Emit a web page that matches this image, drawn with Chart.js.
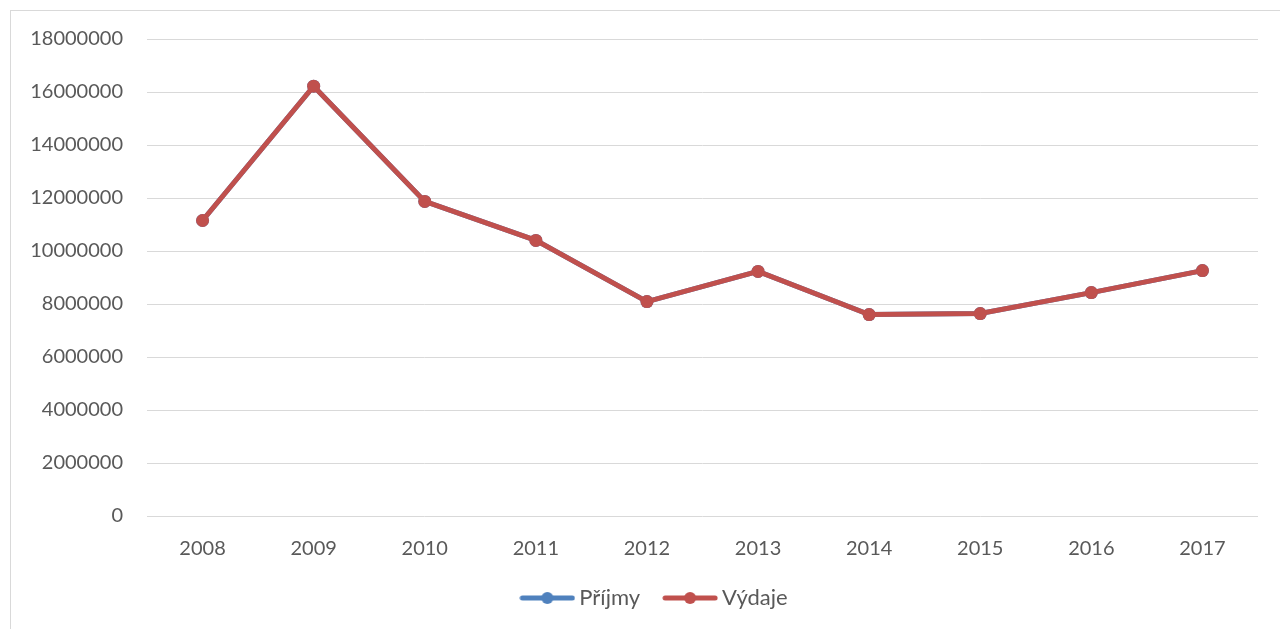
<!DOCTYPE html>
<html>
<head>
<meta charset="utf-8">
<script src="https://cdn.jsdelivr.net/npm/chart.js@4"></script>
<style>
  html, body { margin: 0; padding: 0; background: #fff; overflow: hidden; }
  #frame { position: absolute; left: 10px; top: 10px; width: 1300px; height: 650px; border: 1px solid #d9d9d9; }
  #wrap { position: absolute; left: 0; top: 3px; width: 1280px; height: 626px; }
</style>
</head>
<body>
<div id="frame"></div>
<div id="wrap"><canvas id="chart"></canvas></div>
<script>
var years = ['2008', '2009', '2010', '2011', '2012', '2013', '2014', '2015', '2016', '2017'];
var prijmy = [11150000, 16220000, 11870000, 10400000, 8090000, 9230000, 7600000, 7640000, 8430000, 9260000];
var vydaje = [11150000, 16220000, 11870000, 10400000, 8090000, 9230000, 7600000, 7640000, 8430000, 9260000];

var blue = '#4f81bd';
var red = '#c0504d';
var textColor = '#595959';
var fontFamily = 'Lato, "Open Sans", sans-serif';

// little line+dot picture for the legend, like the office legend
function legendMark(color)
{
    var c = document.createElement('canvas');
    c.width = 56;
    c.height = 14;
    var g = c.getContext('2d');
    g.strokeStyle = color;
    g.lineWidth = 5;
    g.lineCap = 'round';
    g.beginPath();
    g.moveTo(3, 7);
    g.lineTo(53, 7);
    g.stroke();
    g.fillStyle = color;
    g.beginPath();
    g.arc(28, 7, 6, 0, Math.PI * 2);
    g.fill();
    return c;
}

// push the legend a bit to the right, it is not centred on the page
var legendShift = {
    id: 'legendShift',
    afterLayout: function(chart) {
        chart.legend.left += 28;
        chart.legend.right += 28;
    }
};

var ctx = document.getElementById('chart').getContext('2d');

var myChart = new Chart(ctx, {
    type: 'line',
    data: {
        labels: years,
        datasets: [{
            label: 'Příjmy',
            data: prijmy,
            borderColor: blue,
            backgroundColor: blue,
            borderWidth: 5,
            pointRadius: 6.5,
            pointHoverRadius: 6.5,
            pointBorderWidth: 0,
            pointStyle: 'circle',
            order: 1
        }, {
            label: 'Výdaje',
            data: vydaje,
            borderColor: red,
            backgroundColor: red,
            borderWidth: 5,
            pointRadius: 6.5,
            pointHoverRadius: 6.5,
            pointBorderWidth: 0,
            pointStyle: 'circle',
            order: 0
        }]
    },
    plugins: [legendShift],
    options: {
        responsive: true,
        maintainAspectRatio: false,
        animation: false,
        layout: {
            padding: { left: 0, right: 22, top: 34, bottom: 10 }
        },
        plugins: {
            tooltip: { enabled: false },
            legend: {
                position: 'bottom',
                labels: {
                    usePointStyle: true,
                    pointStyleWidth: 42,
                    boxHeight: 14,
                    padding: 29,
                    color: textColor,
                    font: { family: fontFamily, size: 22, lineHeight: 1 },
                    sort: function(a, b) { return a.datasetIndex - b.datasetIndex; },
                    generateLabels: function(chart) {
                        return chart.data.datasets.map(function(ds, i) {
                            return {
                                text: ds.label,
                                pointStyle: legendMark(ds.borderColor),
                                fillStyle: ds.borderColor,
                                strokeStyle: ds.borderColor,
                                lineWidth: 0,
                                fontColor: textColor,
                                hidden: false,
                                datasetIndex: i
                            };
                        });
                    }
                }
            }
        },
        scales: {
            x: {
                offset: true,
                grid: { display: false },
                border: { display: false },
                afterFit: function(scale) { scale.height = 42; },
                ticks: {
                    color: textColor,
                    padding: 13,
                    font: { family: fontFamily, size: 20 }
                }
            },
            y: {
                min: 0,
                max: 18000000,
                afterFit: function(scale) { scale.width = 147; },
                grid: { color: '#d9d9d9', lineWidth: 1, drawTicks: false },
                border: { display: false },
                ticks: {
                    stepSize: 2000000,
                    color: textColor,
                    padding: 24,
                    font: { family: fontFamily, size: 20 },
                    callback: function(v) { return String(v); }
                }
            }
        }
    }
});
</script>
</body>
</html>
